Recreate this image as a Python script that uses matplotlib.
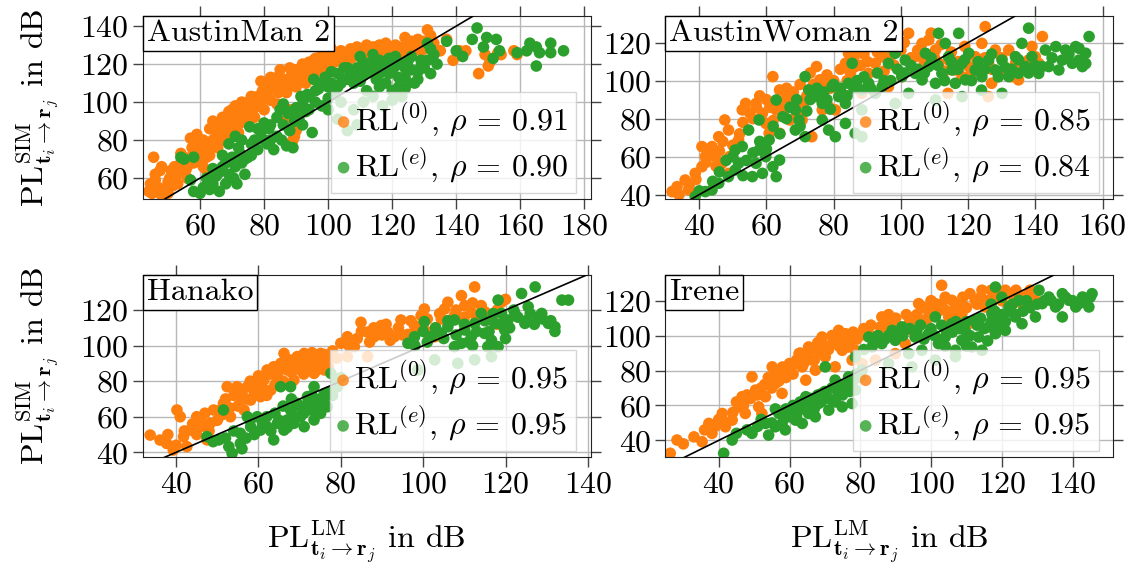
import numpy as np
import matplotlib
matplotlib.use("Agg")
import matplotlib.pyplot as plt
from matplotlib.offsetbox import AnchoredText

plt.rcParams["font.family"] = "serif"
plt.rcParams["font.serif"] = ["cmr10"]
plt.rcParams["mathtext.fontset"] = "cm"
plt.rcParams["axes.formatter.use_mathtext"] = True
plt.rcParams["axes.unicode_minus"] = False
FS = 23
plt.rcParams["font.size"] = FS

# ---- data (LM path loss vs. simulated path loss, dB) ----
names = ["AustinMan 2", "AustinWoman 2", "Hanako", "Irene"]
rho_0 = [0.91, 0.85, 0.95, 0.95]
rho_e = [0.90, 0.84, 0.95, 0.95]

am2_rl0 = [(44, 53), (44.5, 57), (45, 52), (45.5, 71), (46, 62), (47, 55), (47.5, 64), (48, 51), (49, 54),
           (50, 58), (50.5, 60), (51.5, 56), (52, 66), (52.5, 61), (53, 63), (54, 68), (55, 71), (55.5, 64),
           (56, 66), (57, 81), (57.5, 76), (58, 74), (59, 78), (59.5, 72), (60, 70), (61, 66), (62, 71),
           (62.5, 75), (63, 86), (63.5, 77), (64, 80), (65, 82), (65.5, 76), (66, 84), (67, 87), (67.5, 80),
           (68, 88), (69, 85), (69.5, 90), (70, 96), (71, 92), (72, 97), (72.5, 89), (73, 95), (74, 92),
           (75, 100), (76, 94), (76.5, 98), (77, 97), (78, 103), (79, 100), (79.5, 106), (80, 104), (81, 104),
           (82, 113), (83, 108), (84, 113), (84.5, 105), (85, 112), (86, 108), (87, 110), (88, 96), (88.5, 114),
           (89, 115), (90, 108), (91, 93), (89.5, 82), (92, 114), (93, 118), (94, 112), (95, 118), (95.5, 122),
           (96, 116), (97, 120), (98, 122), (99, 118), (100, 124), (101, 124), (102, 121), (103, 126), (104, 123),
           (105, 120), (106, 126), (107, 123), (108, 127), (109, 125), (110, 128), (111, 122), (112, 124),
           (113, 127), (114, 129), (115, 126), (116, 130), (117, 125), (118, 128), (119, 124), (120, 127),
           (121, 130), (122, 129), (123, 126), (124, 134), (125, 131), (126, 128), (127, 131), (128, 133),
           (129, 127), (130, 132), (131, 138), (132, 135), (133, 131), (135, 127), (137, 133), (139, 122),
           (141, 127), (143, 127), (147, 115), (149, 125), (150, 119), (150.5, 121), (153, 126), (154, 125),
           (158, 127), (159, 125),
           (46, 59), (48, 66), (50, 52), (51, 64), (53, 57), (54, 73), (56, 60), (58, 68), (59, 83), (60, 76),
           (61, 80), (62, 64), (63, 72), (64, 90), (65, 88), (66, 79), (67, 92), (68, 83), (69, 95), (70, 87),
           (71, 98), (72, 84), (73, 100), (74, 97), (75, 90), (76, 103), (77, 92), (78, 98), (79, 111), (80, 96),
           (81, 109), (82, 101), (83, 112), (84, 99), (85, 117), (86, 112), (87, 105), (88, 118), (89, 109),
           (90, 117), (91, 112), (92, 120), (93, 110), (94, 121), (95, 115), (96, 123), (97, 117), (98, 125),
           (99, 121), (100, 119), (101, 128), (102, 125), (103, 122), (104, 127), (105, 124), (106, 122),
           (107, 128), (108, 124), (109, 129), (110, 126), (111, 127), (112, 130), (113, 125), (114, 127),
           (115, 129), (116, 127), (118, 131), (120, 129), (122, 127), (124, 129), (126, 132), (128, 130),
           (130, 128), (86, 90), (90, 85), (88, 78), (89, 80)]
am2_rle = [(54, 71), (55, 70), (57, 59), (58, 71), (58, 53), (60, 52), (61, 55), (63, 54), (64, 57), (66, 53),
           (65, 61), (66, 63), (67, 66), (68, 57), (68, 68), (69, 62), (70, 71), (70.5, 60), (71, 82), (71.5, 57),
           (72, 76), (72.5, 73), (73, 68), (74, 70), (75, 71), (75.5, 87), (76, 78), (77, 80), (78, 75), (79, 84),
           (80, 80), (81, 78), (81.5, 86), (82, 88), (83, 75), (84, 82), (85, 96), (85.5, 80), (86, 88), (87, 77),
           (87.5, 94), (88, 85), (89, 76), (89.5, 90), (90, 92), (91, 90), (91.5, 103), (92, 99), (93, 95),
           (93.5, 104), (94, 103), (95, 84), (95.5, 112), (96, 100), (97, 107), (98, 98), (99, 113), (100, 108),
           (101, 110), (102, 104), (103, 115), (104, 110), (105, 118), (106, 112), (107, 116), (108, 110),
           (109, 118), (110, 124), (111, 114), (112, 118), (113, 120), (114, 125), (115, 112), (116, 122),
           (117, 118), (118, 110), (119, 123), (120, 116), (121, 119), (122, 108), (123, 120), (124, 113),
           (125, 122), (126, 117), (127, 110), (128, 116), (129, 122), (130, 118), (131, 131), (132, 115),
           (133, 125), (137, 132), (140, 127), (142, 124), (145, 133), (146.5, 139), (148.5, 129), (149.5, 134),
           (151.5, 123), (152.5, 133), (153.5, 127), (159, 126), (162, 127), (163, 131), (165, 129), (165, 119),
           (166, 126), (169.5, 131), (169.5, 126), (173.5, 127), (103, 91), (106, 85), (108, 96), (111, 100),
           (114, 103), (117, 98), (120, 101), (123, 103), (109, 88),
           (62, 60), (64, 65), (67, 72), (69, 78), (71, 66), (73, 80), (74, 62), (76, 72), (78, 86), (80, 89),
           (82, 80), (84, 92), (86, 99), (88, 95), (90, 97), (92, 88), (94, 96), (96, 106), (98, 110), (100, 102),
           (101, 116), (103, 108), (105, 112), (106, 118), (108, 114), (110, 111), (111, 121), (113, 116),
           (115, 119), (116, 115), (118, 121), (119, 115), (121, 124), (122, 113), (124, 118), (125, 110),
           (126, 124), (128, 112), (129, 119), (131, 122), (132, 128), (134, 120), (100, 96), (104, 100),
           (112, 106), (116, 108), (120, 106), (124, 107)]

aw2_rl0 = [(31.9, 41.6), (33.4, 44.2), (36.8, 42.5), (35.8, 47.7), (38.8, 51.2), (40.8, 54.7), (41.8, 60),
           (43.8, 65.3), (40.8, 65.3), (44.8, 60), (46.8, 56.5), (48.7, 51.2), (45.8, 70.5), (48.7, 74),
           (47.6, 79.3), (51.7, 68.8), (52.8, 84.6), (53.8, 88), (56.9, 88), (58.8, 82.8), (59.8, 77.5),
           (60.8, 72.3), (62.9, 84.6), (61.9, 102.1), (63.9, 95.1), (65.9, 91.6), (66.9, 79.3), (63.9, 72.3),
           (68.6, 86.3), (70.6, 79.3), (72.6, 95.1), (74.9, 107.4), (75.9, 100.4), (76.6, 84.6), (73.5, 70.5),
           (78.5, 86.3), (80.5, 84.6), (82.5, 93.3), (83.5, 109.1), (84.4, 114.4), (86.4, 107.4), (87.4, 116.1),
           (88.4, 93.3), (90.4, 103.8), (92.4, 109.1), (94.4, 112.6), (98.3, 123.2), (99.3, 119.6),
           (102.3, 124.9), (96.3, 96.8), (100.3, 102.1), (104.3, 112.6), (106.3, 119.6), (108.3, 121.4),
           (110.3, 116.1), (111.2, 109.1), (114.2, 110.8), (116.2, 105.6), (118.2, 102.1), (120.2, 107.4),
           (122.1, 112.6), (125.1, 128.4), (124.1, 119.6), (126.1, 109.1), (128.1, 116.1), (132.1, 116.1),
           (134.1, 109.1), (138, 110.8), (140, 112.6), (142.1, 123.2), (141, 109.1), (135, 100.4), (133, 102.1),
           (129, 103.8), (127, 98.6), (126, 91.6), (114, 93.3),
           (34, 40), (37, 45), (39, 48), (42, 57), (43, 62), (45, 55), (46, 63), (47, 68), (49, 60), (50, 66),
           (52, 72), (53, 78), (55, 83), (56, 80), (57, 86), (58, 92), (60, 90), (61, 86), (62, 79), (64, 88),
           (65, 84), (66, 96), (67, 90), (68, 94), (69, 82), (70, 98), (71, 88), (72, 92), (73, 104), (74, 98),
           (75, 95), (76, 92), (77, 98), (78, 103), (79, 96), (80, 100), (81, 96), (82, 106), (84, 100),
           (85, 104), (86, 112), (88, 108), (89, 114), (90, 110), (91, 118), (93, 115), (95, 105), (97, 113),
           (98, 108), (100, 116), (101, 120), (103, 112), (105, 116), (107, 110), (109, 125), (110, 112),
           (112, 119), (113, 105), (115, 115), (117, 110), (119, 118), (121, 104), (123, 108), (125, 112),
           (127, 106), (130, 112), (136, 108), (139, 118)]
aw2_rle = [(38.8, 39), (41.8, 41.6), (43.8, 42.5), (45.8, 46), (48.7, 49.5), (50.7, 53), (51.7, 56.5),
           (50.7, 63.5), (52.8, 65.3), (55.8, 49.5), (56.9, 56.5), (57.8, 63.5), (58.8, 51.2), (59.8, 60),
           (61.9, 54.7), (63.9, 58.2), (62.9, 49.5), (54.7, 74), (57.8, 79.3), (60.8, 68.8), (62.9, 89.8),
           (64.9, 81), (68.6, 74), (68.6, 84.6), (69.7, 79.3), (71.5, 102.1), (71.5, 70.5), (72.6, 95.1),
           (74.9, 91.6), (76.6, 88), (76.6, 79.3), (78.5, 74), (79.5, 96.8), (80.5, 70.5), (81.5, 91.6),
           (83.5, 88), (83.5, 77.5), (84.4, 98.6), (85.5, 109.1), (86.4, 72.3), (88.4, 95.1), (90.4, 98.6),
           (92.4, 93.3), (94.4, 96.8), (96.3, 109.1), (98.3, 114.4), (100.3, 102.1), (101.3, 110.8),
           (102.3, 93.3), (104.3, 103.8), (106.3, 100.4), (107.3, 114.4), (108.3, 107.4), (110.3, 98.6),
           (111.2, 124.9), (112.2, 103.8), (113.2, 119.6), (114.2, 112.6), (115.2, 105.6), (116.2, 98.6),
           (117.2, 124.9), (118.2, 109.1), (119.2, 100.4), (120.2, 114.4), (122.1, 105.6), (124.1, 102.1),
           (126.1, 110.8), (128.1, 105.6), (130.1, 110.8), (130.1, 93.3), (132.1, 102.1), (134.1, 112.6),
           (135, 103.8), (136, 119.6), (137, 107.4), (138, 127.6), (139, 112.6), (141, 103.8), (143, 116.1),
           (144, 107.4), (146.1, 117.9), (148, 110.8), (149, 116.1), (151, 109.1), (152, 117.9), (153, 110.8),
           (155, 114.4), (156, 123.2), (154, 107.4), (147, 105.6), (142, 107.4), (88.4, 84.6), (88.4, 70.5),
           (98.3, 88), (110.3, 89.8), (118.2, 91.6), (124, 95),
           (40, 42), (44, 47), (46, 52), (48, 58), (50, 60), (53, 50), (54, 58), (56, 62), (58, 68), (60, 64),
           (62, 76), (64, 72), (66, 80), (67, 86), (69, 90), (70, 76), (72, 84), (73, 90), (75, 96), (77, 94),
           (78, 90), (79, 85), (80, 98), (82, 96), (84, 92), (86, 96), (87, 100), (89, 102), (91, 96), (93, 104),
           (95, 100), (97, 100), (99, 106), (101, 104), (103, 108), (105, 106), (107, 104), (109, 112),
           (111, 108), (113, 100), (115, 110), (117, 106), (119, 111), (121, 100), (123, 110), (125, 106),
           (127, 114), (129, 102), (131, 107), (133, 106), (135, 111), (138, 104), (140, 108), (145, 112),
           (150, 114), (153, 117), (155, 109)]

han_rl0 = [(33.7, 49.7), (36.1, 46.9), (37.7, 45), (39.3, 41.3), (40.2, 63.8), (41, 60), (41.8, 48.8),
           (42.6, 43.2), (43.4, 52.5), (45, 60), (45.9, 54.4), (47.5, 47), (48.3, 56.3), (49.1, 63.8),
           (50.7, 63.8), (51.5, 67.5), (52.4, 76.9), (53.2, 60), (54.8, 76.9), (55.6, 71.3), (56.5, 63.8),
           (57.3, 76.9), (58.1, 69.4), (59.7, 78.7), (60.5, 71.3), (61.3, 80.6), (62.1, 86.3), (63, 75),
           (63.7, 88.1), (64.6, 82.5), (65.4, 90), (66.2, 95.6), (67, 86.3), (67.8, 91.9), (68.6, 80.6),
           (69.4, 93.8), (70.2, 86.3), (71.1, 95.6), (71.9, 88.1), (72.7, 93.8), (73.5, 84.4), (74.3, 90),
           (75.1, 95.6), (76, 86.3), (76.7, 91.9), (80, 101.3), (81.6, 105), (83.3, 99.4), (84.9, 113.1),
           (86.5, 107.6), (88.1, 105), (89.8, 111.3), (91.4, 107.6), (93, 105), (94.6, 114.4), (96.3, 106.3),
           (97.9, 111.3), (99.5, 116.9), (100.3, 120.6), (101.1, 107.6), (102.8, 105), (104.4, 115),
           (105.2, 120.6), (106, 124.4), (107.6, 116.9), (109.3, 128.1), (110.1, 122.5), (111.7, 118.8),
           (112.5, 133), (114.1, 122.5), (116.6, 114.4), (119, 124.4), (81.6, 93.8), (86.5, 93.8),
           (38, 50), (40, 44), (42, 52), (44, 56), (45, 50), (46, 58), (47, 62), (48, 52), (50, 58), (51, 61),
           (52, 70), (53, 65), (54, 72), (55, 66), (56, 74), (57, 70), (58, 80), (59, 74), (60, 83), (61, 76),
           (62, 72), (63, 84), (64, 78), (65, 86), (66, 80), (67, 90), (68, 85), (69, 88), (70, 92), (71, 84),
           (72, 90), (73, 96), (74, 86), (75, 92), (76, 95), (77, 88), (78, 97), (79, 93), (82, 100), (84, 104),
           (85, 108), (87, 102), (88, 110), (90, 106), (91, 112), (92, 103), (94, 110), (95, 106), (97, 114),
           (98, 108), (100, 112), (101, 115), (103, 110), (104, 118), (106, 113), (108, 120), (110, 116),
           (112, 124), (113, 115), (115, 119), (118, 120), (120, 126), (118, 112)]
han_rle = [(47.5, 48.8), (51.5, 63.8), (50.4, 47), (52.8, 43.2), (53.6, 39.4), (55.6, 50.7), (55.6, 45),
           (57.3, 60), (58.1, 54.4), (59.7, 60), (60.5, 52.5), (62.1, 54.4), (63.7, 47), (64.6, 56.3),
           (65.4, 76.9), (66.2, 52.5), (67, 58.2), (67.8, 63.8), (68.6, 56.3), (69.4, 67.5), (70.2, 60),
           (71.1, 54.4), (71.9, 71.3), (72.7, 63.8), (73.5, 58.2), (74.3, 67.5), (75.1, 61.9), (76, 73.1),
           (76.7, 65.6), (77.6, 84.4), (79.2, 76.9), (73.5, 76.9), (67.8, 76.9), (96.3, 101.3), (97.9, 105),
           (100.3, 113.5), (102, 105), (104.4, 106.9), (106, 110.6), (107.6, 114.4), (109.3, 101.3),
           (110.1, 108.8), (111.7, 105), (112.5, 112.5), (114.1, 118.1), (114.9, 106.9), (116.6, 103),
           (117.4, 112.5), (118.2, 125.6), (119, 118.1), (119.8, 108.8), (120.6, 114.4), (122.3, 118.1),
           (123.9, 129.3), (124.7, 112.5), (125.5, 121.9), (127.2, 133), (128, 116.2), (128.8, 118.1),
           (130.4, 112.5), (132, 110.6), (133.7, 125.6), (135.3, 125.6), (118.2, 99.4), (115.7, 99.4),
           (107.6, 99.4), (102.8, 92), (108.4, 90), (112.5, 92), (116.6, 93.8), (98.7, 86.3),
           (49, 46), (52, 48), (54, 52), (56, 42), (57, 48), (58, 58), (59, 50), (61, 56), (62, 60), (63, 52),
           (64, 62), (65, 58), (66, 66), (67, 54), (68, 70), (69, 60), (70, 66), (71, 62), (72, 68), (73, 72),
           (74, 64), (75, 70), (76, 68), (77, 74), (78, 72), (79, 80), (80, 82), (98, 100), (100, 108),
           (101, 102), (103, 110), (105, 104), (106, 114), (108, 106), (110, 112), (111, 102), (113, 108),
           (115, 114), (116, 108), (117, 118), (119, 112), (121, 110), (122, 120), (123, 116), (125, 114),
           (126, 118), (127, 112), (129, 115), (131, 114), (132, 108), (120, 104), (112, 100)]

ire_rl0 = [(26.3, 32.6), (28.2, 40.2), (35.3, 39.2), (37.2, 49.7), (38.1, 44), (41, 55.4), (41.9, 47.8),
           (43.8, 51.6), (45.7, 59.2), (47.5, 55.4), (46.6, 65), (49.4, 76.4), (50.4, 68.8), (51.3, 59.2),
           (52.2, 55.4), (53.2, 65), (55.1, 82.1), (56, 72.6), (57, 78.3), (57.9, 66.9), (59.8, 80.2),
           (61.7, 84), (62.7, 89.7), (63.6, 82.1), (64.6, 74.5), (65.4, 93.5), (66.4, 86), (67.3, 80.2),
           (68.2, 91.6), (69.2, 99.2), (70.1, 87.8), (72, 95.4), (72.9, 82.1), (73.9, 103), (74.9, 91.6),
           (75.8, 101.1), (76.7, 93.5), (77.7, 86), (78.6, 91.6), (80.5, 84), (82.4, 101.1), (84.3, 99.2),
           (85.7, 105), (86.1, 110.7), (88, 103), (89.9, 106.8), (91.8, 99.2), (92.7, 95.4), (94.6, 103),
           (95.5, 110.7), (96.5, 118.3), (97.4, 106.8), (99.3, 114.5), (101.2, 118.3), (103, 128.8),
           (104, 114.5), (105, 110.7), (105.9, 120.2), (106.9, 116.4), (107.6, 105), (108.7, 112.6),
           (110.6, 106.8), (112.5, 120.2), (114.4, 126), (115.3, 116.4), (118.2, 122.1), (121, 126),
           (123.8, 122.1), (125.7, 118.3), (127.6, 124), (129.5, 120.2), (84.3, 86), (89.9, 89.7),
           (30, 38), (33, 42), (36, 46), (39, 48), (40, 52), (42, 50), (44, 56), (45, 62), (47, 60), (48, 66),
           (49, 64), (51, 66), (52, 70), (53, 72), (54, 76), (55, 70), (56, 78), (57, 74), (58, 82), (59, 76),
           (60, 84), (61, 78), (62, 86), (63, 90), (64, 84), (65, 88), (66, 92), (67, 86), (68, 96), (69, 90),
           (70, 94), (71, 92), (72, 100), (73, 96), (74, 94), (75, 98), (76, 100), (77, 96), (78, 102), (79, 98),
           (80, 100), (81, 104), (83, 106), (85, 100), (87, 108), (88, 112), (90, 110), (92, 104), (93, 112),
           (94, 108), (96, 112), (98, 116), (99, 110), (100, 120), (102, 114), (103, 118), (104, 122),
           (106, 112), (108, 118), (109, 122), (110, 116), (111, 124), (113, 118), (114, 122), (116, 120),
           (117, 126), (119, 124), (120, 120), (122, 124), (124, 126), (126, 122), (128, 126)]
ire_rle = [(41.4, 32.6), (43.8, 40.2), (49.4, 44), (53.2, 49.7), (54.1, 43), (56, 47.8), (57, 55.4),
           (57.9, 49.7), (58.8, 46), (59.8, 53.5), (61.7, 51.6), (62.7, 59.2), (63.6, 49.7), (64.6, 65),
           (65.4, 55.4), (67.3, 53.5), (68.2, 61.1), (69.2, 66.9), (70.1, 82.1), (71.1, 57.3), (72, 63),
           (72.9, 74.5), (73.9, 66.9), (74.9, 59.2), (75.8, 70.7), (76.7, 76.4), (77.7, 61.1), (78.6, 68.8),
           (78.6, 87.8), (80.5, 80.2), (82.4, 99.2), (83.3, 93.5), (86.1, 95.4), (89, 103), (89.9, 97.3),
           (91.8, 105), (93.7, 89.7), (95.5, 99.2), (97.4, 91.6), (99.3, 101.1), (101.2, 110.7), (102.1, 95.4),
           (104, 99.2), (105.9, 106.8), (106.9, 91.6), (108.7, 97.3), (109.6, 103), (111.5, 93.5),
           (112.5, 108.8), (113.4, 99.2), (114.4, 91.6), (116.3, 105), (117.2, 112.6), (118.2, 101.1),
           (119.1, 108.8), (118.2, 127.8), (121, 103), (122, 116.4), (123.8, 110.7), (124.8, 120.2),
           (125.7, 106.8), (127.6, 116.4), (129.5, 110.7), (130.5, 126), (131.4, 118.3), (133.3, 122.1),
           (135.2, 116.4), (137.1, 124), (139, 120.2), (140.9, 116.4), (142.8, 122.1), (144.6, 116.4),
           (145.5, 124), (141.8, 118.3), (137.1, 110.7), (88, 84), (94.6, 82.1), (101.2, 86), (106.9, 88),
           (45, 44), (48, 46), (51, 48), (52, 52), (55, 50), (56, 58), (58, 56), (59, 58), (60, 56), (61, 60),
           (62, 54), (63, 62), (64, 58), (65, 60), (66, 64), (67, 58), (68, 66), (69, 62), (70, 68), (71, 64),
           (72, 70), (73, 62), (74, 72), (75, 66), (76, 72), (77, 68), (78, 74), (79, 78), (80, 76), (81, 92),
           (84, 96), (85, 100), (87, 98), (88, 100), (90, 102), (92, 100), (94, 104), (96, 102), (97, 106),
           (98, 98), (100, 104), (101, 100), (103, 106), (104, 104), (106, 102), (107, 108), (108, 104),
           (110, 108), (111, 100), (113, 106), (114, 110), (115, 104), (117, 108), (118, 114), (119, 104),
           (120, 112), (121, 108), (122, 114), (123, 118), (124, 112), (126, 114), (127, 120), (128, 116),
           (130, 118), (132, 120), (134, 120), (136, 118), (138, 122), (140, 120), (143, 120), (145, 122),
           (117, 118), (120, 122), (116, 97), (110, 94), (104, 94)]

series_0 = [am2_rl0, aw2_rl0, han_rl0, ire_rl0]
series_e = [am2_rle, aw2_rle, han_rle, ire_rle]

xlims = [(42.1, 182), (29.9, 163.2), (31.9, 140.7), (24.9, 151.5)]
ylims = [(49, 145.3), (37.7, 134), (37.2, 139.7), (30.3, 134.7)]
xticks = [range(60, 181, 20), range(40, 161, 20), range(40, 141, 20), range(40, 141, 20)]
yticks = [range(60, 141, 20), range(40, 121, 20), range(40, 121, 20), range(40, 121, 20)]

# axes rectangles in figure fraction
rects = [[0.126, 0.6496, 0.3954, 0.3222], [0.5872, 0.6496, 0.3954, 0.3222],
         [0.126, 0.1949, 0.3954, 0.3209], [0.5872, 0.1949, 0.3954, 0.3209]]

fig = plt.figure(figsize=(11.33, 5.68), dpi=100)

ylab = r"$\mathrm{PL}^{\mathrm{SIM}}_{\mathbf{t}_i\rightarrow\mathbf{r}_j}$ in dB"
xlab = r"$\mathrm{PL}^{\mathrm{LM}}_{\mathbf{t}_i\rightarrow\mathbf{r}_j}$ in dB"

for k in range(4):
    ax = fig.add_axes(rects[k])
    p0 = np.array(series_0[k])
    pe = np.array(series_e[k])
    ax.scatter(p0[:, 0], p0[:, 1], s=70, color="#ff7f0e", edgecolors="none", zorder=2,
               label=r"$\mathrm{RL}^{(0)}$, $\rho\,=\,%.2f$" % rho_0[k])
    ax.scatter(pe[:, 0], pe[:, 1], s=70, color="#2ca02c", edgecolors="none", zorder=2,
               label=r"$\mathrm{RL}^{(e)}$, $\rho\,=\,%.2f$" % rho_e[k])
    ax.axline((0, 0), slope=1, color="black", lw=1.2, zorder=3)

    ax.set_xlim(*xlims[k])
    ax.set_ylim(*ylims[k])
    ax.set_xticks(list(xticks[k]))
    ax.set_yticks(list(yticks[k]))
    ax.grid(True, color="#b8b8b8", lw=1.0)
    ax.set_axisbelow(True)
    ax.tick_params(direction="out", length=7, width=1, color="#444444",
                   top=True, right=True, labelsize=FS, pad=3)
    for sp in ax.spines.values():
        sp.set_color("#222222")

    leg = ax.legend(loc="lower right", bbox_to_anchor=(0.982, 0.0), fontsize=FS, fancybox=False,
                    framealpha=0.8, handlelength=0.3, handletextpad=0.2, borderpad=0.25,
                    labelspacing=0.2, borderaxespad=0.2)
    for h in leg.legend_handles:
        h.set_alpha(0.8)

    at = AnchoredText(names[k], loc="upper left", pad=0.12, borderpad=0, prop=dict(size=FS))
    at.patch.set_boxstyle("square,pad=0")
    at.patch.set_edgecolor("black")
    ax.add_artist(at)

    if k % 2 == 0:
        ax.set_ylabel(ylab, fontsize=FS, labelpad=14)
    if k >= 2:
        ax.set_xlabel(xlab, fontsize=FS, labelpad=14)

fig.savefig("out.png", dpi=100)
